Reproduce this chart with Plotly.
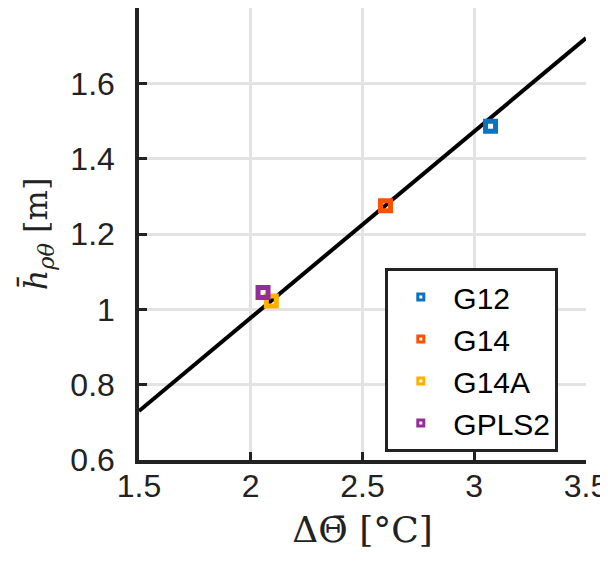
import plotly.graph_objects as go

# Data
names = ["G12", "G14", "G14A", "GPLS2"]
x_vals = [3.073, 2.603, 2.092, 2.055]
y_vals = [1.486, 1.275, 1.022, 1.045]
colors = ["#0A72C0", "#FF5000", "#FFB000", "#952C99"]
fit_x = [1.5, 3.5]
fit_y = [0.73, 1.72]
x_ticks = [1.5, 2, 2.5, 3, 3.5]
x_ticklabels = ["1.5", "2", "2.5", "3", "3.5"]
y_ticks = [0.6, 0.8, 1.0, 1.2, 1.4, 1.6]
y_ticklabels = ["0.6", "0.8", "1", "1.2", "1.4", "1.6"]

fig = go.Figure()
fig.add_trace(go.Scatter(x=fit_x, y=fit_y, mode="lines",
                         line=dict(color="black", width=4), showlegend=False))
for n, xv, yv, c in zip(names, x_vals, y_vals, colors):
    fig.add_trace(go.Scatter(x=[xv], y=[yv], mode="markers", showlegend=False,
                             marker=dict(symbol="square-open", size=10,
                                         color=c, line=dict(color=c, width=5))))
for n, c in zip(names, colors):
    fig.add_trace(go.Scatter(x=[None], y=[None], mode="markers", name=n,
                             legendgroup=n,
                             marker=dict(symbol="square-open", size=6,
                                         color=c, line=dict(color=c, width=3))))

axis_common = dict(showgrid=True, gridcolor="#e3e3e3", gridwidth=3,
                   showline=True, linecolor="#222222", linewidth=3.5,
                   ticks="inside", ticklen=8, tickwidth=3, tickcolor="#222222",
                   zeroline=False, mirror=False, ticklabeloverflow="allow",
                   tickfont=dict(family="Liberation Sans, Arial", size=32, color="#222222"))

fig.update_xaxes(range=[1.5, 3.5], tickvals=x_ticks, ticktext=x_ticklabels,
                 title=dict(text="ΔΘ̄ [°C]", font=dict(family="DejaVu Serif, Liberation Serif", size=36, color="#222222"), standoff=15),
                 ticklabelstandoff=-5, **axis_common)
fig.update_yaxes(range=[0.6, 1.8], tickvals=y_ticks, ticktext=y_ticklabels,
                 title=dict(text="<i>h̄</i><sub><i>ρθ</i></sub> [m]", font=dict(family="DejaVu Serif, Liberation Serif", size=32, color="#222222"), standoff=14),
                 ticklabelstandoff=14, **axis_common)

fig.update_layout(
    width=600, height=554,
    margin=dict(l=131, r=17, t=0, b=102),
    plot_bgcolor="white", paper_bgcolor="white",
    legend=dict(x=0.551, y=0.425, xanchor="left", yanchor="top",
                bordercolor="#222222", borderwidth=3, bgcolor="white",
                font=dict(family="Liberation Sans, Arial", size=30, color="black"),
                itemwidth=55, tracegroupgap=0),
)

fig.write_html("out.html")
